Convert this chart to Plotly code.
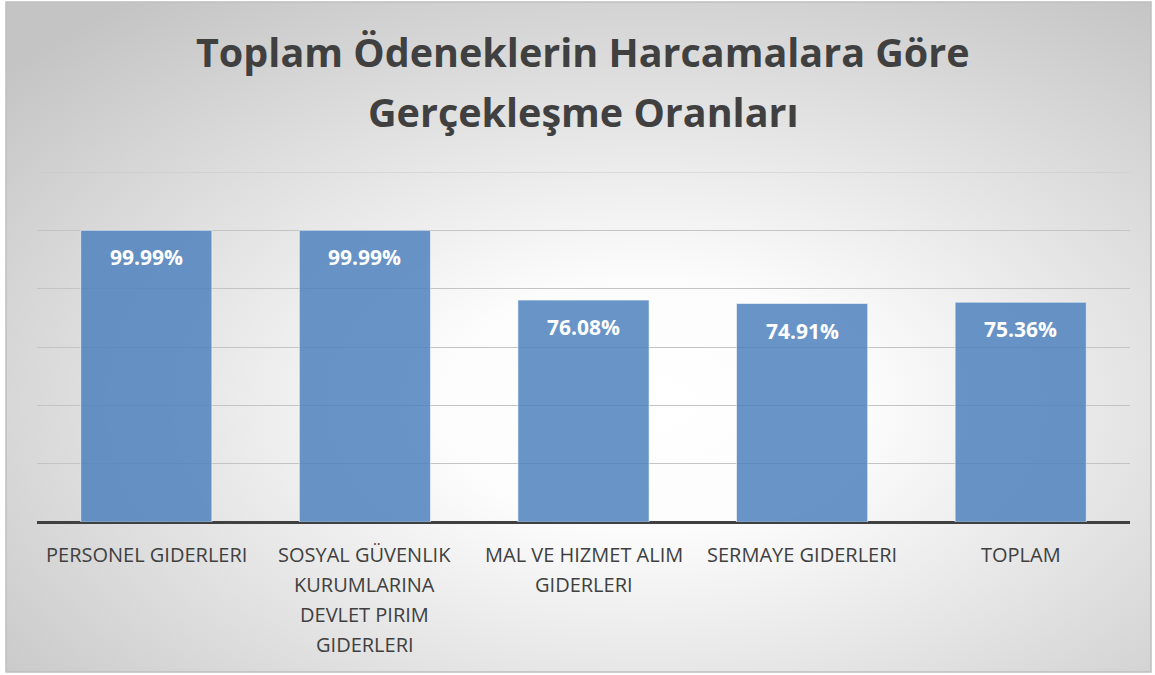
import base64
import plotly.graph_objects as go

categories = [
    "PERSONEL GIDERLERI",
    "SOSYAL GÜVENLIK\nKURUMLARINA\nDEVLET PIRIM\nGIDERLERI",
    "MAL VE HIZMET ALIM\nGIDERLERI",
    "SERMAYE GIDERLERI",
    "TOPLAM",
]
values = [99.99, 99.99, 76.08, 74.91, 75.36]
labels = ["99.99%", "99.99%", "76.08%", "74.91%", "75.36%"]
title_lines = ["Toplam Ödeneklerin Harcamalara Göre", "Gerçekleşme Oranları"]
y_max = 120

W, H = 1155, 675
L, R, T, B = 37, 25, 172, 153
PW, PH = W - L - R, H - T - B

def px_x(px):
    return (px - L) / PW

def px_y(py):
    return (H - B - py) / PH

xs = list(range(len(categories)))

fig = go.Figure()
fig.add_trace(go.Bar(
    x=xs, y=values,
    marker=dict(color="rgba(79,129,189,0.85)",
                line=dict(color="rgba(255,255,255,0.55)", width=1)),
    hoverinfo="skip",
))

svg = (
    '<svg xmlns="http://www.w3.org/2000/svg" width="1145" height="670" viewBox="0 0 1145 670" preserveAspectRatio="none">'
    '<defs><radialGradient id="g" cx="0.56" cy="0.6" r="0.75" gradientUnits="objectBoundingBox">'
    '<stop offset="0" stop-color="#ffffff"/><stop offset="0.25" stop-color="#fcfcfc"/>'
    '<stop offset="1" stop-color="#c4c4c4"/></radialGradient></defs>'
    '<rect x="0" y="0" width="1145" height="670" fill="url(#g)"/></svg>'
)
src = "data:image/svg+xml;base64," + base64.b64encode(svg.encode()).decode()
bx0, bx1, by0, by1 = 6, 1151, 2, 672
fig.add_layout_image(dict(
    source=src, xref="paper", yref="paper",
    x=px_x(bx0), y=px_y(by0), sizex=px_x(bx1) - px_x(bx0), sizey=px_y(by0) - px_y(by1),
    xanchor="left", yanchor="top", sizing="stretch", layer="below",
))
fig.add_shape(type="rect", xref="paper", yref="paper",
              x0=px_x(bx0), x1=px_x(bx1), y0=px_y(by1), y1=px_y(by0),
              line=dict(color="#bfbfbf", width=1.5), fillcolor="rgba(0,0,0,0)", layer="above")
# top gridline at the axis maximum
fig.add_shape(type="line", xref="paper", yref="y", x0=0, x1=1, y0=y_max, y1=y_max,
              line=dict(color="#c8c8c8", width=1), layer="below")

annotations = []
for i, (v, t) in enumerate(zip(values, labels)):
    annotations.append(dict(
        x=xs[i], y=v, xref="x", yref="y", text="<b>" + t + "</b>", showarrow=False,
        yshift=-27, font=dict(family="Open Sans", size=21, color="white"),
    ))
for i, c in enumerate(categories):
    for j, line in enumerate(c.split("\n")):
        annotations.append(dict(
            x=xs[i], y=0, xref="x", yref="paper", text=line, showarrow=False,
            yanchor="middle", yshift=-(32 + 30 * j),
            font=dict(family="Open Sans", size=20, color="#404040"),
        ))
title_y = [52, 112]
for ty, t in zip(title_y, title_lines):
    annotations.append(dict(
        x=px_x(583), y=px_y(ty), xref="paper", yref="paper", text="<b>" + t + "</b>",
        showarrow=False, yanchor="middle", xanchor="center",
        font=dict(family="Open Sans", size=39.5, color="#404040"),
    ))

fig.update_layout(
    width=W, height=H,
    margin=dict(l=L, r=R, t=T, b=B),
    paper_bgcolor="white", plot_bgcolor="rgba(0,0,0,0)",
    showlegend=False, bargap=0.4,
    annotations=annotations,
    xaxis=dict(range=[-0.5, len(categories) - 0.5], showticklabels=False, showgrid=False,
               zeroline=False, showline=False, ticks=""),
    yaxis=dict(range=[0, y_max], dtick=20, showticklabels=False, showgrid=True,
               gridcolor="#c4c4c4", gridwidth=1, zeroline=True, zerolinecolor="#404040",
               zerolinewidth=3, showline=False, ticks=""),
)

fig.write_html("out.html")
